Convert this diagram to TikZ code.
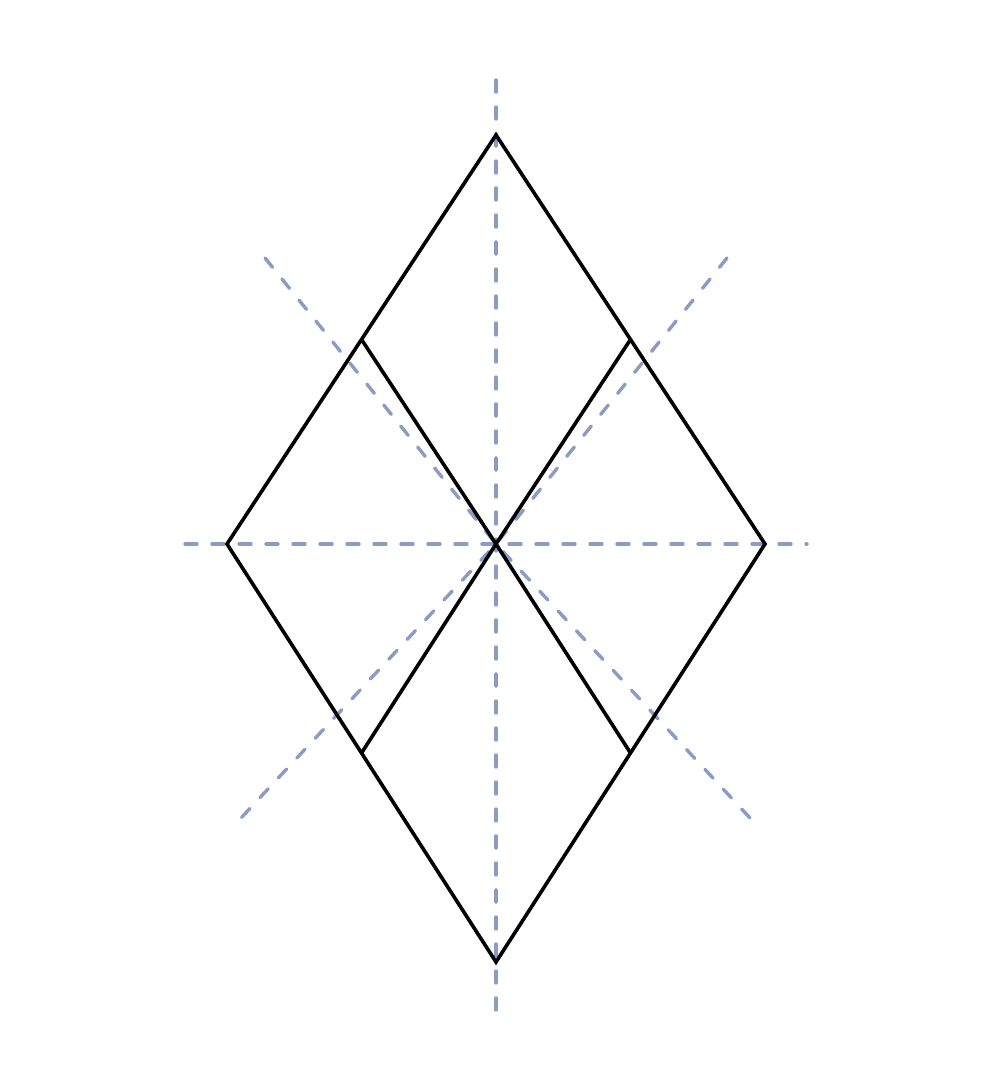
\documentclass[tikz,border=0pt]{standalone}
\usepackage{xcolor}
\usetikzlibrary{calc}

\definecolor{axisblue}{RGB}{138,156,198}

\begin{document}
\begin{tikzpicture}[x=0.5pt,y=-0.5pt,
		axis/.style={axisblue, line width=1.7pt, line cap=round, dash pattern=on 6pt off 7.5pt},
		edge/.style={black, line width=1.8pt, line join=miter}]
		\useasboundingbox (0,0) rectangle (992,1085);
		
		\coordinate (O) at (496,544);
		\coordinate (T) at (496,135);
		\coordinate (B) at (496,962);
		\coordinate (L) at (227,544);
		\coordinate (R) at (765,544);
		
		% symmetry lines
		\coordinate (vt) at (496,80);
		\coordinate (vb) at (496,1010);
		\coordinate (hl) at (185,544);
		\coordinate (hr) at (807,544);
		\coordinate (d1) at (265,258);
		\coordinate (d2) at (750,818);
		\coordinate (d3) at (727,258);
		\coordinate (d4) at (241,818);
		\draw[axis] (vt) -- (vb);
		\draw[axis] (hl) -- (hr);
		\draw[axis] (d1) -- (O) -- (d2);
		\draw[axis] (d3) -- (O) -- (d4);
		
		% rhombus
		\draw[edge] (T) -- (R) -- (B) -- (L) -- cycle;
		\draw[edge] ($(T)!0.5!(L)$) -- (O) -- ($(B)!0.5!(R)$);
		\draw[edge] ($(T)!0.5!(R)$) -- (O) -- ($(B)!0.5!(L)$);
	\end{tikzpicture}
\end{document}
